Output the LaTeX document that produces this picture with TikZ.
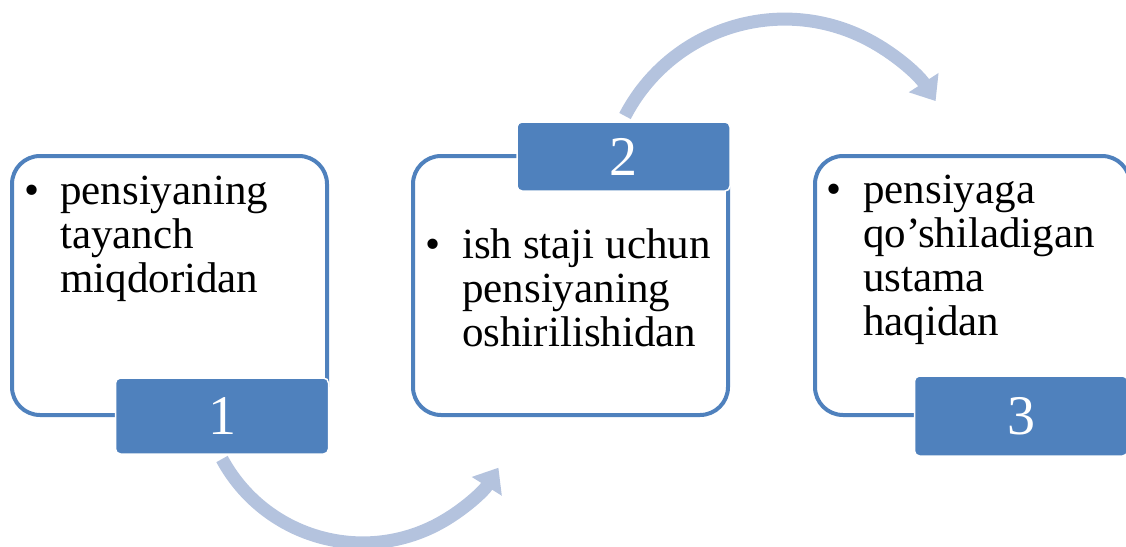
\documentclass[tikz,border=0pt]{standalone}
\usepackage{fontspec}
\setmainfont{Liberation Serif}
\usepackage{tikz}
\usetikzlibrary{arrows.meta}
\definecolor{boxblue}{RGB}{79,129,189}
\definecolor{arrowblue}{RGB}{180,195,222}

\begin{document}
\begin{tikzpicture}[x=1pt, y=-1pt,
    box/.style={draw=boxblue, line width=4pt, rounded corners=28pt, minimum width=315pt, minimum height=259pt, inner sep=0},
    tab/.style={fill=boxblue, draw=white, line width=1.5pt, rounded corners=5pt, minimum width=213pt, inner sep=0, text=white, font=\fontsize{56}{60}\selectfont},
    item/.style={anchor=base west, inner sep=0, font=\fontsize{43}{44}\selectfont},
    flow/.style={draw=arrowblue, line width=13pt, -{Triangle[width=34pt, length=22pt]}}]
    \useasboundingbox (0,0) rectangle (1126,546);
    \clip (0,0) rectangle (1126,546);
    % frames
    \node[box] (box1) at (169.5,285.5) {};
    \node[box] (box2) at (570.5,285.5) {};
    \node[box] (box3) at (972.5,285.5) {};
    % curved arrows
    \coordinate (s1) at (222,459);
    \coordinate (s2) at (625,116);
    \draw[flow] (s1) arc[start angle=151.6, end angle=32, radius=160];
    \draw[flow] (s2) arc[start angle=207.5, end angle=327, radius=180];
    % number tabs
    \node[tab, minimum height=76pt] (tab1) at (222,416) {1};
    \node[tab, minimum height=69pt] (tab2) at (623.5,156.5) {2};
    \node[tab, minimum height=80pt] (tab3) at (1021,416) {3};
    % texts
    \node[item] (txt1) at (24,204) {\begin{tabular}[t]{@{}l@{}l@{}}\makebox[36pt][l]{\textbullet} & pensiyaning\\ & tayanch\\ & miqdoridan\end{tabular}};
    \node[item] (txt2) at (425,258) {\begin{tabular}[t]{@{}l@{}l@{}}\makebox[37pt][l]{\textbullet} & ish staji uchun\\ & pensiyaning\\ & oshirilishidan\end{tabular}};
    \node[item] (txt3) at (826,203) {\begin{tabular}[t]{@{}l@{}l@{}}\makebox[37pt][l]{\textbullet} & pensiyaga\\ & qo’shiladigan\\ & ustama\\ & haqidan\end{tabular}};
\end{tikzpicture}
\end{document}
